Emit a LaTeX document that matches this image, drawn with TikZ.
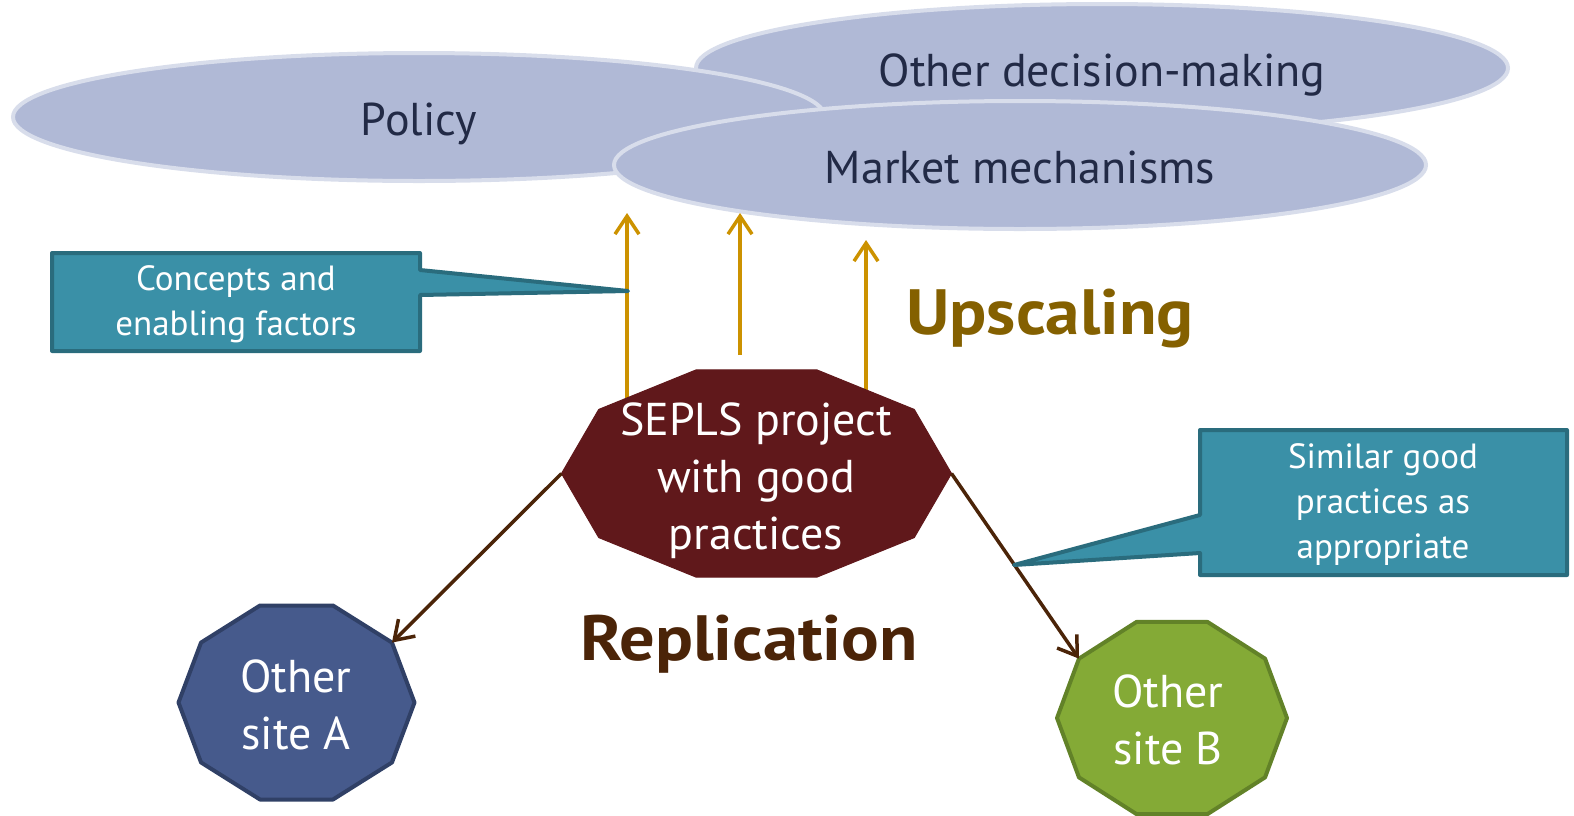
\documentclass[tikz,border=0pt]{standalone}
\usepackage{fontspec}
\setmainfont{PT Sans}
\usetikzlibrary{arrows.meta,shapes.geometric}
\definecolor{ellfill}{RGB}{176,185,214}
\definecolor{elledge}{RGB}{216,221,235}
\definecolor{elltext}{RGB}{34,42,70}
\definecolor{callfill}{RGB}{58,144,167}
\definecolor{calledge}{RGB}{42,108,125}
\definecolor{upgold}{RGB}{204,146,0}
\definecolor{uptext}{RGB}{132,96,0}
\definecolor{repbrown}{RGB}{75,36,8}
\definecolor{seplsfill}{RGB}{96,24,27}
\definecolor{afill}{RGB}{70,90,140}
\definecolor{aedge}{RGB}{48,64,102}
\definecolor{bfill}{RGB}{132,170,54}
\definecolor{bedge}{RGB}{98,130,40}
\tikzset{
  ellbox/.style={ellipse, fill=ellfill, draw=elledge, line width=4pt,
    minimum width=812pt, minimum height=128pt, text=elltext,
    font=\fontsize{46}{56}\selectfont, text height=36pt, text depth=0pt, inner sep=0pt},
  uparrow/.style={draw=upgold, line width=3.5pt, -{Straight Barb[length=18pt,width=24pt,line width=3.5pt]}},
  reparrow/.style={draw=repbrown, line width=3.5pt, -{Straight Barb[length=18pt,width=24pt,line width=3.5pt]}},
  callbox/.style={fill=callfill, draw=calledge, line width=4pt, line join=round},
  calltext/.style={text=white, align=center, font=\fontsize{35}{45}\selectfont},
  polytext/.style={text=white, align=center, font=\fontsize{46}{57}\selectfont},
  bigword/.style={font=\fontsize{64}{70}\selectfont\bfseries, anchor=base}
}
\begin{document}
\begin{tikzpicture}[x=1pt,y=-1pt]
\useasboundingbox (0,0) rectangle (1574,815);
% ellipses
\node[ellbox] (other) at (1102,68) {Other decision-making};
\node[ellbox] (policy) at (419,117) {Policy};
\node[ellbox] (market) at (1020,165) {Market mechanisms};
% upscaling arrows
\coordinate (u1s) at (627,398);
\coordinate (u1e) at (627,213);
\coordinate (u2s) at (740,355);
\coordinate (u2e) at (740,213);
\coordinate (u3s) at (866,390);
\coordinate (u3e) at (866,240);
\draw[uparrow] (u1s) -- (u1e);
\draw[uparrow] (u2s) -- (u2e);
\draw[uparrow] (u3s) -- (u3e);
% SEPLS decagon
\begin{scope}[shift={(756.5,473.5)}]
\draw[fill=seplsfill, draw=seplsfill, line width=1pt] (0:195 and 109)
  \foreach \a in {36,72,...,324} { -- (\a:195 and 109) } -- cycle;
\coordinate (sL) at (180:195 and 109);
\coordinate (sR) at (0:195 and 109);
\end{scope}
\node[polytext] (sepls) at (756,481) {SEPLS project\\with good\\practices};
% site A
\begin{scope}[shift={(296.5,702.5)}]
\draw[fill=afill, draw=aedge, line width=4pt, line join=round] (0:118 and 102)
  \foreach \a in {36,72,...,324} { -- (\a:118 and 102) } -- cycle;
\coordinate (aTR) at (324:118 and 102);
\end{scope}
\node[polytext] (siteA) at (296,705) {Other\\site A};
% site B
\begin{scope}[shift={(1172,718)}]
\draw[fill=bfill, draw=bedge, line width=4pt, line join=round] (0:115 and 101)
  \foreach \a in {36,72,...,324} { -- (\a:115 and 101) } -- cycle;
\coordinate (bTL) at (216:115 and 101);
\end{scope}
\node[polytext] (siteB) at (1168,720) {Other\\site B};
% replication arrows
\draw[reparrow] (sL) -- (aTR);
\draw[reparrow] (sR) -- (bTL);
% callout 1
\coordinate (c1tip) at (628,291);
\draw[callbox] (52,253) -- (420,253) -- (420,270) -- (c1tip) -- (420,295) -- (420,351) -- (52,351) -- cycle;
\node[calltext] (concepts) at (236,304) {Concepts and\\enabling factors};
% callout 2
\coordinate (c2tip) at (1014,565);
\draw[callbox] (1200,430) -- (1567,430) -- (1567,575) -- (1200,575) -- (1200,553) -- (c2tip) -- (1200,515) -- cycle;
\node[calltext] (similar) at (1383,505) {Similar good\\practices as\\appropriate};
% labels
\node[bigword, text=uptext] (upscaling) at (1050,334) {\scalebox{1.08}[1]{Upscaling}};
\node[bigword, text=repbrown] (replication) at (749,660) {\scalebox{1.1}[1]{Replication}};
\end{tikzpicture}
\end{document}
